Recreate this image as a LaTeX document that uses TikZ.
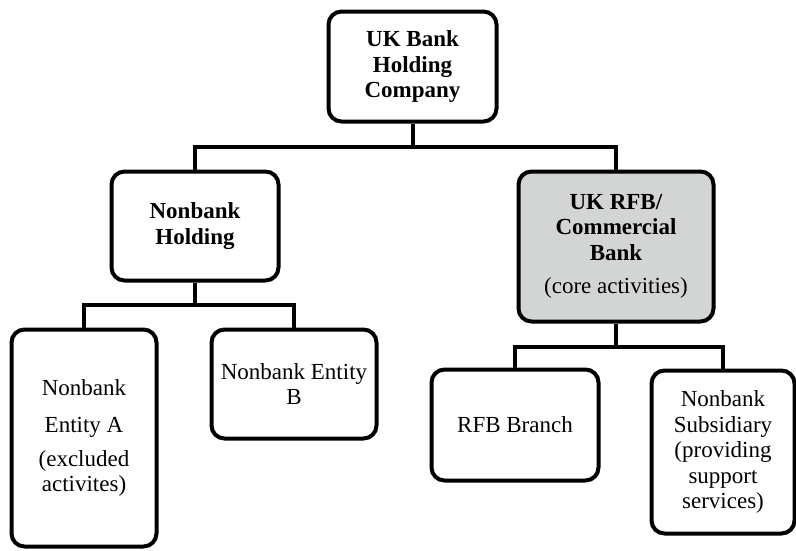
\documentclass[tikz,border=0pt]{standalone}
\usepackage{fontspec}
\setmainfont{Liberation Serif}
\definecolor{corefill}{RGB}{211,212,212}
\begin{document}
\begin{tikzpicture}[x=1pt,y=-1pt,
  box/.style={draw=black, line width=4pt, rounded corners=13pt, fill=white,
    align=center, inner sep=0pt, font=\fontsize{23}{25.5}\selectfont},
  link/.style={draw=black, line width=4pt}]
\useasboundingbox (0,0) rectangle (796,550);

% top level
\node[box, minimum width=168pt, minimum height=110pt] (top) at (412.5,66.5)
  {\textbf{UK Bank}\\\textbf{Holding}\\\textbf{Company}};

% second level
\node[box, minimum width=167pt, minimum height=109pt] (nbh) at (195,226)
  {\textbf{Nonbank}\\\textbf{Holding}};
\node[box, fill=corefill, minimum width=195pt, minimum height=150pt] (rfb) at (616,246.5)
  {\textbf{UK RFB/}\\\textbf{Commercial}\\\textbf{Bank}\\[8pt](core activities)};

% third level, nonbank side
\node[box, minimum width=145pt, minimum height=217pt] (enta) at (84,438)
  {Nonbank\\[12pt]Entity A\\[8pt](excluded\\activites)};
\node[box, minimum width=165pt, minimum height=109pt] (entb) at (294,384)
  {Nonbank Entity\\B};

% third level, ring-fenced side
\node[box, minimum width=167pt, minimum height=111pt] (branch) at (515,425)
  {RFB Branch};
\node[box, minimum width=143pt, minimum height=163pt] (sub) at (723,452)
  {Nonbank\\Subsidiary\\(providing\\support\\services)};

% connectors
\coordinate (j0) at (412.5,147);
\coordinate (j1) at (195,305);
\coordinate (j2) at (616,347);
\draw[link] (top.south) -- (j0);
\draw[link] (j0) -| (nbh.north);
\draw[link] (j0) -| (rfb.north);
\draw[link] (nbh.south) -- (j1);
\draw[link] (j1) -| (enta.north);
\draw[link] (j1) -| (entb.north);
\draw[link] (rfb.south) -- (j2);
\draw[link] (j2) -| (branch.north);
\draw[link] (j2) -| (sub.north);
\end{tikzpicture}
\end{document}
